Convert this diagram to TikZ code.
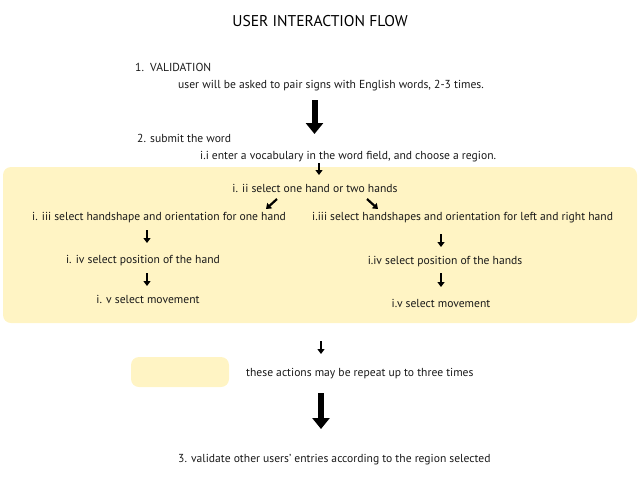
\documentclass[tikz,border=0pt]{standalone}
\usepackage{fontspec}
\setmainfont{PT Sans}
\usetikzlibrary{positioning,arrows.meta}
\definecolor{panel}{RGB}{255,244,196}

\begin{document}
\begin{tikzpicture}[
    x=1pt, y=-1pt,
    txt/.style={inner sep=0pt, anchor=west, font=\fontsize{11.6}{13}\selectfont, text=black!90},
    panelbox/.style={rectangle, fill=panel, rounded corners=8pt},
    bigarrow/.style={line width=6pt, -{Triangle[width=17pt,length=11pt]}},
    smallarrow/.style={line width=2.2pt, -{Triangle[width=7pt,length=5pt]}}
]
\useasboundingbox (0,0) rectangle (640,480);

% Background panels
\node[panelbox, minimum width=634pt, minimum height=156pt] (panel) at (320,245) {};
\node[panelbox, minimum width=98pt, minimum height=30pt] (legend) at (180,372) {};

% Title and validation step
\node[inner sep=0pt, font=\fontsize{15.6}{18}\selectfont] (title) at (320,21) {USER INTERACTION FLOW};
\node[txt] (validation) at (135,67) {1.\ \ VALIDATION};
\node[txt] (pair) at (178,86) {user will be asked to pair signs with English words, 2-3 times.};

% Submit step
\node[txt] (submit) at (137,138) {2. submit the word};
\node[txt] (vocab) at (200,157) {i.i enter a vocabulary in the word field, and choose a region.};
\node[txt, anchor=center] (hands) at (315,188) {i. ii select one hand or two hands};

% One hand branch
\node[txt] (oneshape) at (32,218) {i. iii select handshape and orientation for one hand};
\node[txt, anchor=center] (onepos) at (143,261) {i. iv select position of the hand};
\node[txt, anchor=center] (onemove) at (148,299) {i. v select movement};

% Two hands branch
\node[txt] (twoshape) at (312,218) {i.iii select handshapes and orientation for left and right hand};
\node[txt, anchor=center] (twopos) at (445,262) {i.iv select position of the hands};
\node[txt, anchor=center] (twomove) at (441,303) {i.v select movement};

% Repeat note and last step
\node[txt] (repeat) at (246,374) {these actions may be repeat up to three times};
\node[txt] (check) at (178,460) {3. validate other users' entries according to the region selected};

% Arrow ends
\coordinate (a1) at (314.5,100);   \coordinate (b1) at (314.5,134);
\coordinate (a2) at (319,163);     \coordinate (b2) at (319,175);
\coordinate (a3) at (277,199);     \coordinate (b3) at (266,209);
\coordinate (a4) at (367,199);     \coordinate (b4) at (378,209);
\coordinate (a5) at (147,230);     \coordinate (b5) at (147,243);
\coordinate (a6) at (147,273);     \coordinate (b6) at (147,286);
\coordinate (a7) at (441,234);     \coordinate (b7) at (441,247);
\coordinate (a8) at (441,273);     \coordinate (b8) at (441,287);
\coordinate (a9) at (321,341);     \coordinate (b9) at (321,354);
\coordinate (a10) at (321,393);    \coordinate (b10) at (321,429);

% Arrows
\draw[bigarrow] (a1) -- (b1);
\draw[smallarrow] (a2) -- (b2);
\draw[smallarrow] (a3) -- (b3);
\draw[smallarrow] (a4) -- (b4);
\draw[smallarrow] (a5) -- (b5);
\draw[smallarrow] (a6) -- (b6);
\draw[smallarrow] (a7) -- (b7);
\draw[smallarrow] (a8) -- (b8);
\draw[smallarrow] (a9) -- (b9);
\draw[bigarrow] (a10) -- (b10);

\end{tikzpicture}
\end{document}
